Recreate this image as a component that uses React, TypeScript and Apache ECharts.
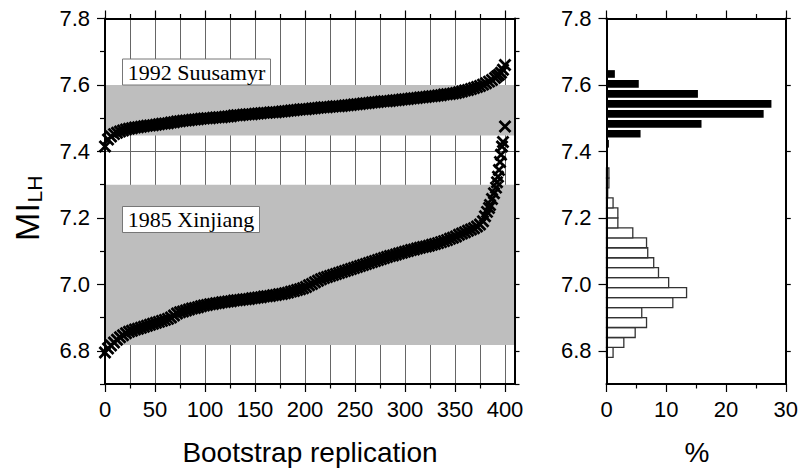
import React, { useEffect, useRef } from "react";
import * as echarts from "echarts";

// Sorted bootstrap replications: [replication, MI_LH]
const suusamyrPoints: [number, number][] = [
  [0, 7.415], [3, 7.436], [6, 7.445], [9, 7.452], [12, 7.456], [15, 7.46], [18, 7.463], [21, 7.466],
  [24, 7.468], [27, 7.47], [30, 7.472], [33, 7.473], [36, 7.474], [39, 7.476], [42, 7.477], [45, 7.478],
  [48, 7.479], [51, 7.48], [54, 7.482], [57, 7.483], [60, 7.484], [63, 7.485], [66, 7.487], [69, 7.488],
  [72, 7.49], [75, 7.491], [78, 7.492], [81, 7.493], [84, 7.494], [87, 7.495], [90, 7.496], [93, 7.497],
  [96, 7.498], [99, 7.499], [102, 7.5], [105, 7.5], [108, 7.501], [111, 7.502], [114, 7.503], [117, 7.503],
  [120, 7.504], [123, 7.505], [126, 7.506], [129, 7.508], [132, 7.509], [135, 7.509], [138, 7.51],
  [141, 7.511], [144, 7.512], [147, 7.512], [150, 7.513], [153, 7.514], [156, 7.515], [159, 7.516],
  [162, 7.516], [165, 7.517], [168, 7.518], [171, 7.518], [174, 7.519], [177, 7.52], [180, 7.521],
  [183, 7.522], [186, 7.523], [189, 7.524], [192, 7.525], [195, 7.526], [198, 7.527], [201, 7.527],
  [204, 7.528], [207, 7.529], [210, 7.53], [213, 7.531], [216, 7.532], [219, 7.533], [222, 7.533],
  [225, 7.534], [228, 7.535], [231, 7.536], [234, 7.536], [237, 7.537], [240, 7.538], [243, 7.539],
  [246, 7.54], [249, 7.541], [252, 7.542], [255, 7.543], [258, 7.544], [261, 7.545], [264, 7.546],
  [267, 7.547], [270, 7.548], [273, 7.549], [276, 7.55], [279, 7.551], [282, 7.551], [285, 7.552],
  [288, 7.553], [291, 7.554], [294, 7.555], [297, 7.556], [300, 7.557], [303, 7.558], [306, 7.559],
  [309, 7.56], [312, 7.561], [315, 7.562], [318, 7.563], [321, 7.564], [324, 7.565], [327, 7.566],
  [330, 7.567], [333, 7.568], [336, 7.569], [339, 7.571], [342, 7.572], [345, 7.573], [348, 7.574],
  [351, 7.576], [354, 7.578], [357, 7.58], [360, 7.583], [363, 7.585], [366, 7.588], [369, 7.591],
  [372, 7.594], [375, 7.597], [378, 7.601], [381, 7.605], [384, 7.61], [387, 7.615], [390, 7.621],
  [392, 7.626], [394, 7.631], [396, 7.637], [398, 7.646], [400, 7.66],
];

const xinjiangPoints: [number, number][] = [
  [0, 6.795], [3, 6.807], [6, 6.816], [9, 6.825], [12, 6.833], [15, 6.841], [18, 6.847], [21, 6.853],
  [24, 6.857], [27, 6.86], [30, 6.864], [33, 6.866], [36, 6.869], [39, 6.872], [42, 6.875], [45, 6.878],
  [48, 6.881], [51, 6.884], [54, 6.887], [57, 6.89], [60, 6.893], [63, 6.896], [66, 6.9], [69, 6.906],
  [72, 6.912], [75, 6.916], [78, 6.918], [81, 6.921], [84, 6.924], [87, 6.927], [90, 6.929], [93, 6.931],
  [96, 6.934], [99, 6.936], [102, 6.938], [105, 6.94], [108, 6.941], [111, 6.943], [114, 6.944],
  [117, 6.946], [120, 6.947], [123, 6.948], [126, 6.949], [129, 6.951], [132, 6.952], [135, 6.953],
  [138, 6.954], [141, 6.955], [144, 6.956], [147, 6.958], [150, 6.959], [153, 6.96], [156, 6.961],
  [159, 6.963], [162, 6.964], [165, 6.965], [168, 6.967], [171, 6.968], [174, 6.97], [177, 6.971],
  [180, 6.973], [183, 6.975], [186, 6.978], [189, 6.98], [192, 6.983], [195, 6.985], [198, 6.988],
  [201, 6.992], [204, 6.997], [207, 7.001], [210, 7.006], [213, 7.011], [216, 7.015], [219, 7.019],
  [222, 7.022], [225, 7.025], [228, 7.028], [231, 7.031], [234, 7.034], [237, 7.037], [240, 7.04],
  [243, 7.043], [246, 7.046], [249, 7.049], [252, 7.052], [255, 7.055], [258, 7.058], [261, 7.061],
  [264, 7.064], [267, 7.067], [270, 7.07], [273, 7.073], [276, 7.076], [279, 7.079], [282, 7.082],
  [285, 7.085], [288, 7.087], [291, 7.09], [294, 7.093], [297, 7.095], [300, 7.098], [303, 7.1],
  [306, 7.103], [309, 7.105], [312, 7.108], [315, 7.11], [318, 7.112], [321, 7.114], [324, 7.116],
  [327, 7.119], [330, 7.121], [333, 7.124], [336, 7.127], [339, 7.13], [342, 7.133], [345, 7.137],
  [348, 7.14], [351, 7.144], [354, 7.149], [357, 7.153], [360, 7.157], [363, 7.161], [366, 7.165],
  [369, 7.169], [372, 7.174], [375, 7.18], [378, 7.19], [380, 7.205], [382, 7.218], [384, 7.23],
  [385, 7.239], [387, 7.257], [389, 7.274], [391, 7.291], [392, 7.307], [393, 7.324], [394, 7.344],
  [395, 7.368], [396, 7.39], [397, 7.415], [398, 7.428], [400, 7.475],
];

// Shaded ranges [low, high]
const bandRanges: [number, number][] = [
  [7.448, 7.6],
  [6.817, 7.3],
];

// Histogram: lower bin edges (bin width 0.03) and percentages
const binWidth = 0.03;
const suusamyrBinLow = [7.38, 7.41, 7.44, 7.47, 7.5, 7.53, 7.56, 7.59, 7.62];
const suusamyrPercent = [0.2, 0.4, 5.7, 15.9, 26.3, 27.6, 15.3, 5.4, 1.4];
const xinjiangBinLow = [
  6.78, 6.81, 6.84, 6.87, 6.9, 6.93, 6.96, 6.99, 7.02, 7.05, 7.08, 7.11, 7.14, 7.17, 7.2, 7.23, 7.26, 7.29, 7.32,
];
const xinjiangPercent = [
  1.1, 2.9, 4.8, 6.7, 5.9, 11.1, 13.4, 10.4, 8.7, 7.9, 6.9, 6.7, 4.4, 1.9, 1.9, 1.1, 0.2, 0.4, 0.4,
];

// Ticks and grid lines
const xMajor = [0, 50, 100, 150, 200, 250, 300, 350, 400];
const xMinor = [25, 75, 125, 175, 225, 275, 325, 375];
const gridXValues = [25, 50, 75, 100, 125, 150, 175, 200, 225, 250, 275, 300, 325, 350, 375, 400];
const gridYValues = [7.0, 7.4];
const yMajor = [6.8, 7.0, 7.2, 7.4, 7.6, 7.8];
const yMinor = [6.7, 6.9, 7.1, 7.3, 7.5, 7.7];
const pctMajor = [0, 10, 20, 30];
const pctMinor = [5, 15, 25];

const eventLabels = ["1992 Suusamyr", "1985 Xinjiang"];

const SANS = "'Liberation Sans', Arial, Helvetica, sans-serif";
const SERIF = "'Liberation Serif', 'Times New Roman', serif";

const X_MIN = 0, X_MAX = 410, Y_MIN = 6.7, Y_MAX = 7.8, P_MIN = 0, P_MAX = 30;

function tickAxis(opts: any) {
  const { gridIndex, position, min, max, ticks, length, labels, line, fmt } = opts;
  return {
    type: "value",
    gridIndex,
    position,
    min,
    max,
    z: 10,
    splitLine: { show: false },
    minorSplitLine: { show: false },
    axisLine: line
      ? { show: true, onZero: false, lineStyle: { color: "#000", width: 2 } }
      : { show: false, onZero: false },
    axisTick: {
      show: true,
      inside: false,
      length,
      customValues: ticks,
      lineStyle: { color: "#000", width: 1.2 },
    },
    axisLabel: labels
      ? {
          show: true,
          customValues: ticks,
          color: "#000",
          fontSize: 22,
          fontFamily: SANS,
          margin: position === "left" ? 15 : 14,
          formatter: fmt,
        }
      : { show: false },
  };
}

export default function App() {
  const ref = useRef<HTMLDivElement>(null);

  useEffect(() => {
    if (!ref.current) return;
    const chart = echarts.init(ref.current, null, { renderer: "svg" });

    const fmtInt = (v: number) => String(Math.round(v));
    const fmtOne = (v: number) => v.toFixed(1);

    const renderBar = (filled: boolean) => (params: any, api: any) => {
      const lo = api.value(0);
      const pct = api.value(1);
      const p0 = api.coord([0, lo]);
      const p1 = api.coord([pct, lo + binWidth]);
      const x = p0[0];
      const w = Math.max(p1[0] - p0[0], 0.8);
      let y = p1[1];
      let h = p0[1] - p1[1];
      if (filled) {
        y += 1.8;
        h -= 2.3;
      }
      return {
        type: "rect",
        shape: { x, y, width: w, height: h },
        style: filled
          ? { fill: "#000", stroke: null }
          : { fill: "#fff", stroke: "#333", lineWidth: 1.3 },
      };
    };

    const xSymbol = "path://M0 0L10 10M10 0L0 10";
    const markStyle = { color: "rgba(0,0,0,0)", borderColor: "#000", borderWidth: 2.8, opacity: 1 };

    chart.setOption({
      animation: false,
      backgroundColor: "#fff",
      grid: [
        { left: 105, top: 18.5, width: 410, height: 365.5, containLabel: false },
        { left: 606.5, top: 18.5, width: 181.5, height: 365.5, containLabel: false },
      ],
      xAxis: [
        tickAxis({ gridIndex: 0, position: "bottom", min: X_MIN, max: X_MAX, ticks: xMajor, length: 8, labels: true, line: true, fmt: fmtInt }),
        tickAxis({ gridIndex: 0, position: "bottom", min: X_MIN, max: X_MAX, ticks: xMinor, length: 4.5, labels: false, line: false }),
        tickAxis({ gridIndex: 0, position: "top", min: X_MIN, max: X_MAX, ticks: xMajor, length: 8, labels: false, line: true }),
        tickAxis({ gridIndex: 0, position: "top", min: X_MIN, max: X_MAX, ticks: xMinor, length: 4.5, labels: false, line: false }),
        tickAxis({ gridIndex: 1, position: "bottom", min: P_MIN, max: P_MAX, ticks: pctMajor, length: 8, labels: true, line: true, fmt: fmtInt }),
        tickAxis({ gridIndex: 1, position: "bottom", min: P_MIN, max: P_MAX, ticks: pctMinor, length: 4.5, labels: false, line: false }),
        tickAxis({ gridIndex: 1, position: "top", min: P_MIN, max: P_MAX, ticks: pctMajor, length: 8, labels: false, line: true }),
        tickAxis({ gridIndex: 1, position: "top", min: P_MIN, max: P_MAX, ticks: pctMinor, length: 4.5, labels: false, line: false }),
      ],
      yAxis: [
        tickAxis({ gridIndex: 0, position: "left", min: Y_MIN, max: Y_MAX, ticks: yMajor, length: 8, labels: true, line: true, fmt: fmtOne }),
        tickAxis({ gridIndex: 0, position: "left", min: Y_MIN, max: Y_MAX, ticks: yMinor, length: 5, labels: false, line: false }),
        tickAxis({ gridIndex: 0, position: "right", min: Y_MIN, max: Y_MAX, ticks: [...yMinor, ...yMajor], length: 4.5, labels: false, line: true }),
        tickAxis({ gridIndex: 1, position: "left", min: Y_MIN, max: Y_MAX, ticks: yMajor, length: 8, labels: true, line: true, fmt: fmtOne }),
        tickAxis({ gridIndex: 1, position: "right", min: Y_MIN, max: Y_MAX, ticks: yMajor, length: 5, labels: false, line: true }),
      ],
      series: [
        {
          name: "grid",
          type: "scatter",
          xAxisIndex: 0,
          yAxisIndex: 0,
          data: [],
          silent: true,
          markLine: {
            silent: true,
            z: 0,
            symbol: ["none", "none"],
            label: { show: false },
            lineStyle: { color: "#666", width: 1, type: "solid" },
            data: [
              ...gridXValues.map((v) => ({ xAxis: v })),
              ...gridYValues.map((v) => ({ yAxis: v })),
            ],
          },
          markArea: {
            silent: true,
            z: 1,
            itemStyle: { color: "#bebebe", borderWidth: 0 },
            label: { show: false },
            data: bandRanges.map(([a, b]) => [{ yAxis: a }, { yAxis: b }]),
          },
        },
        {
          name: "1992 Suusamyr",
          type: "scatter",
          xAxisIndex: 0,
          yAxisIndex: 0,
          z: 3,
          symbol: xSymbol,
          symbolSize: 11,
          itemStyle: markStyle,
          data: suusamyrPoints,
        },
        {
          name: "1985 Xinjiang",
          type: "scatter",
          xAxisIndex: 0,
          yAxisIndex: 0,
          z: 3,
          symbol: xSymbol,
          symbolSize: 11,
          itemStyle: markStyle,
          data: xinjiangPoints,
        },
        {
          name: "Suusamyr histogram",
          type: "custom",
          xAxisIndex: 4,
          yAxisIndex: 3,
          z: 3,
          renderItem: renderBar(true),
          data: suusamyrBinLow.map((lo, i) => [lo, suusamyrPercent[i]]),
        },
        {
          name: "Xinjiang histogram",
          type: "custom",
          xAxisIndex: 4,
          yAxisIndex: 3,
          z: 3,
          renderItem: renderBar(false),
          data: xinjiangBinLow.map((lo, i) => [lo, xinjiangPercent[i]]),
        },
      ],
      graphic: [
        {
          type: "group",
          z: 100,
          children: [
            {
              type: "rect",
              z: 100,
              shape: { x: 122.5, y: 59, width: 148, height: 26 },
              style: { fill: "#fff", stroke: "#777", lineWidth: 1 },
            },
            {
              type: "text",
              z: 101,
              x: 196.5,
              y: 72,
              style: {
                text: eventLabels[0],
                font: `22px ${SERIF}`,
                fill: "#000",
                textAlign: "center",
                textVerticalAlign: "middle",
              },
            },
            {
              type: "rect",
              z: 100,
              shape: { x: 122.5, y: 206.5, width: 137, height: 26 },
              style: { fill: "#fff", stroke: "#777", lineWidth: 1 },
            },
            {
              type: "text",
              z: 101,
              x: 191,
              y: 219.5,
              style: {
                text: eventLabels[1],
                font: `22px ${SERIF}`,
                fill: "#000",
                textAlign: "center",
                textVerticalAlign: "middle",
              },
            },
            {
              type: "text",
              z: 101,
              x: 310,
              y: 452,
              style: {
                text: "Bootstrap replication",
                font: `28px ${SANS}`,
                fill: "#000",
                textAlign: "center",
                textVerticalAlign: "middle",
              },
            },
            {
              type: "text",
              z: 101,
              x: 697,
              y: 452,
              style: {
                text: "%",
                font: `28px ${SANS}`,
                fill: "#000",
                textAlign: "center",
                textVerticalAlign: "middle",
              },
            },
            {
              type: "text",
              z: 101,
              x: 27,
              y: 222,
              rotation: Math.PI / 2,
              style: {
                text: "MI",
                font: `34px ${SANS}`,
                fill: "#000",
                textAlign: "center",
                textVerticalAlign: "middle",
              },
            },
            {
              type: "text",
              z: 101,
              x: 34,
              y: 189,
              rotation: Math.PI / 2,
              style: {
                text: "LH",
                font: `21px ${SANS}`,
                fill: "#000",
                textAlign: "center",
                textVerticalAlign: "middle",
              },
            },
          ],
        },
      ],
    });

    return () => chart.dispose();
  }, []);

  return (
    <div
      ref={ref}
      style={{ position: "fixed", left: 0, top: 0, width: 801, height: 470, background: "#fff" }}
    />
  );
}
